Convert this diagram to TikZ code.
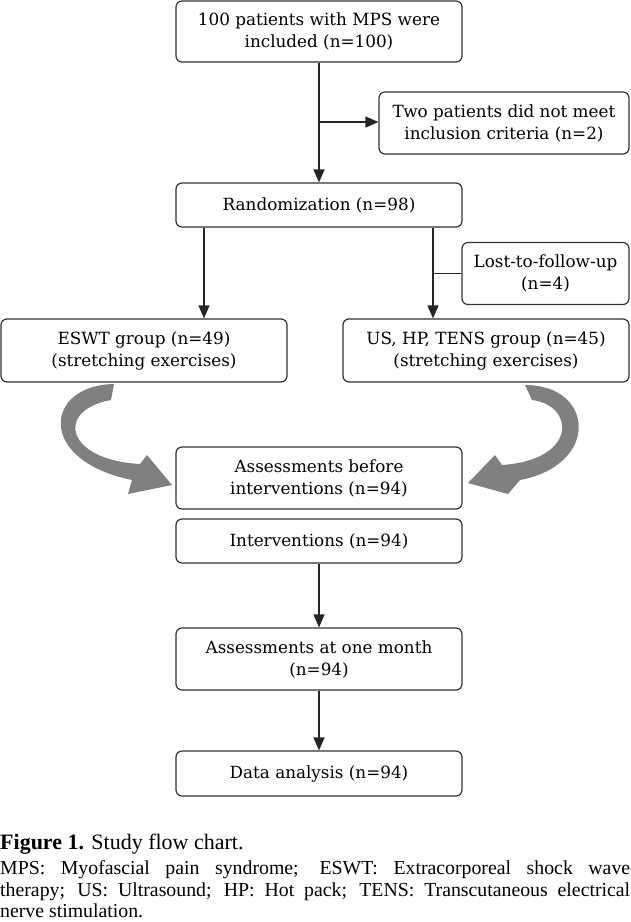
\documentclass[tikz,border=0pt]{standalone}
\usepackage{fontspec}
\setmainfont{Liberation Serif}
\newfontfamily\boxfont{DejaVu Serif}
\usetikzlibrary{arrows.meta}
\definecolor{arrowgray}{RGB}{128,128,128}
\begin{document}
\begin{tikzpicture}[x=1pt,y=-1pt,
  box/.style={draw=black!80,line width=1.2pt,rounded corners=6pt,align=center,
    font=\boxfont\fontsize{16.8}{22}\selectfont,inner sep=0pt},
  arr/.style={draw=black!85,line width=1.2pt,-{Triangle[length=13pt,width=11pt]}},
  ln/.style={draw=black!85,line width=1.2pt},
  bigarrow/.style={fill=arrowgray,draw=none},
  legendline/.style={anchor=base west,inner sep=0pt,font=\fontsize{19.8}{21.5}\selectfont}]
\useasboundingbox (0,0) rectangle (630,922);
% boxes
\node[box,minimum width=286pt,minimum height=61pt] (inc) at (319,31.5) {100 patients with MPS were\\included (n=100)};
\node[box,minimum width=250pt,minimum height=62pt] (excl) at (504,123) {Two patients did not meet\\inclusion criteria (n=2)};
\node[box,minimum width=286pt,minimum height=44pt] (rand) at (319,205) {Randomization (n=98)};
\node[box,minimum width=167pt,minimum height=62pt] (lost) at (545.5,273.5) {Lost-to-follow-up\\(n=4)};
\node[box,minimum width=286pt,minimum height=63pt] (eswt) at (144,350.5) {ESWT group (n=49)\\(stretching exercises)};
\node[box,minimum width=286pt,minimum height=63pt] (us) at (486,350.5) {US, HP, TENS group (n=45)\\(stretching exercises)};
\node[box,minimum width=286pt,minimum height=62pt] (before) at (319,478) {Assessments before\\interventions (n=94)};
\node[box,minimum width=286pt,minimum height=44pt] (interv) at (319,541) {Interventions (n=94)};
\node[box,minimum width=286pt,minimum height=62pt] (month) at (319,659) {Assessments at one month\\(n=94)};
\node[box,minimum width=286pt,minimum height=45pt] (data) at (319,773.5) {Data analysis (n=94)};
% connectors
\coordinate (j1) at (319,122);
\coordinate (j2) at (433,273.5);
\draw[arr] (inc.south) -- (rand.north);
\draw[arr] (j1) -- (j1 -| excl.west);
\draw[arr] ([xshift=-115pt]rand.south) -- ([xshift=-115pt]rand.south |- eswt.north);
\draw[arr] ([xshift=114pt]rand.south) -- ([xshift=114pt]rand.south |- us.north);
\draw[ln] (j2) -- (lost.west);
\draw[arr] (interv.south) -- (month.north);
\draw[arr] (month.south) -- (data.north);
% curved grey arrows
\path[bigarrow] (114,384) .. controls (45,385) and (35,460) .. (132,480)
  -- (128,494) -- (172,485) -- (147,455) -- (140,464)
  .. controls (65,460) and (55,410) .. (111,400) -- cycle;
\path[bigarrow] (525,385) .. controls (595,385) and (600,465) .. (520,480)
  -- (508,494) -- (468,483) -- (495,455) -- (502,465)
  .. controls (578,460) and (575,405) .. (532,400) -- cycle;
% caption
\node[anchor=base west,inner sep=0pt,font=\fontsize{22}{24}\selectfont] (cap) at (0,849) {\textbf{Figure 1.} Study flow chart.};
\node[legendline] (leg1) at (0,874) {\makebox[630pt][s]{MPS: Myofascial pain syndrome; ESWT: Extracorporeal shock wave}};
\node[legendline] (leg2) at (0,896) {\makebox[630pt][s]{therapy; US: Ultrasound; HP: Hot pack; TENS: Transcutaneous electrical}};
\node[legendline] (leg3) at (0,917) {nerve stimulation.};
\end{tikzpicture}
\end{document}
